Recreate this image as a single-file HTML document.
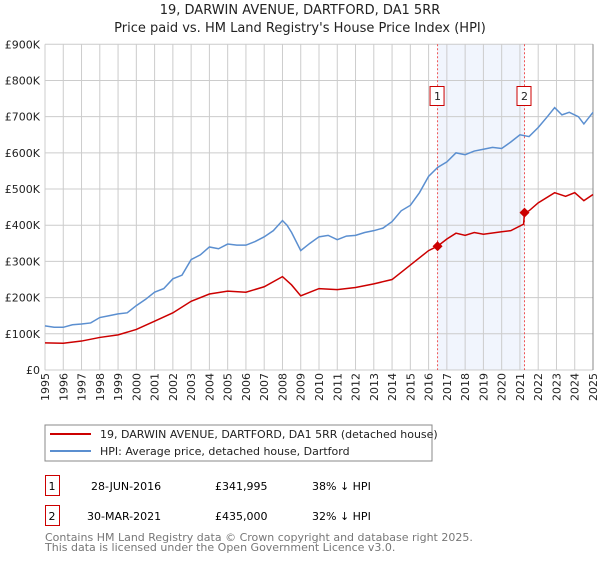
<!DOCTYPE html>
<html><head><meta charset="utf-8"><style>
body{margin:0;background:#fff;font-family:"DejaVu Sans","Liberation Sans",sans-serif;}
svg text{font-family:"DejaVu Sans","Liberation Sans",sans-serif;}
</style></head><body>
<svg id="c" width="600" height="560" xmlns="http://www.w3.org/2000/svg">
<text x="300" y="14" text-anchor="middle" font-size="13" fill="#222">19, DARWIN AVENUE, DARTFORD, DA1 5RR</text>
<text x="300" y="32" text-anchor="middle" font-size="13" fill="#222">Price paid vs. HM Land Registry's House Price Index (HPI)</text>
<g id="plot"></g>
<rect x="45" y="425" width="387" height="36" fill="#fff" stroke="#888"/>
<line x1="50" y1="434" x2="91" y2="434" stroke="#cc0000" stroke-width="2"/>
<text x="100" y="438" font-size="11" fill="#222">19, DARWIN AVENUE, DARTFORD, DA1 5RR (detached house)</text>
<line x1="50" y1="451" x2="91" y2="451" stroke="#5b8fd0" stroke-width="2"/>
<text x="100" y="455" font-size="11" fill="#222">HPI: Average price, detached house, Dartford</text>
<g>
<rect x="45.5" y="475.5" width="14" height="20" fill="none" stroke="#cc0000"/>
<text x="52" y="490" text-anchor="middle" font-size="11">1</text>
<text x="91" y="490" font-size="11">28-JUN-2016</text>
<text x="215" y="490" font-size="11">£341,995</text>
<text x="312" y="490" font-size="11">38% ↓ HPI</text></g>
<g>
<rect x="45.5" y="505.5" width="14" height="20" fill="none" stroke="#cc0000"/>
<text x="52" y="520" text-anchor="middle" font-size="11">2</text>
<text x="87" y="520" font-size="11">30-MAR-2021</text>
<text x="215" y="520" font-size="11">£435,000</text>
<text x="312" y="520" font-size="11">32% ↓ HPI</text></g>
<text x="45" y="541" font-size="11" fill="#777">Contains HM Land Registry data © Crown copyright and database right 2025.</text>
<text x="45" y="551" font-size="11" fill="#777">This data is licensed under the Open Government Licence v3.0.</text>
</svg>
<script>
const hpiYears=[1995,1995.5,1996,1996.5,1997,1997.5,1998,1998.5,1999,1999.5,2000,2000.5,2001,2001.5,2002,2002.5,2003,2003.5,2004,2004.5,2005,2005.5,2006,2006.5,2007,2007.5,2008,2008.25,2008.5,2009,2009.5,2010,2010.5,2011,2011.5,2012,2012.5,2013,2013.5,2014,2014.5,2015,2015.5,2016,2016.5,2017,2017.5,2018,2018.5,2019,2019.5,2020,2020.5,2021,2021.5,2022,2022.5,2022.9,2023.3,2023.7,2024.2,2024.5,2025];
const hpiValues=[122,118,118,125,127,130,145,150,155,158,178,195,215,225,252,262,305,318,340,335,348,345,345,355,368,385,413,400,380,330,350,368,372,360,370,372,380,385,392,410,440,455,490,535,560,575,600,595,605,610,615,612,630,650,645,670,700,725,705,712,700,680,712];
const redYears=[1995,1996,1997,1998,1999,2000,2001,2002,2003,2004,2005,2006,2007,2008,2008.5,2009,2010,2011,2012,2013,2014,2015,2016,2016.49,2017,2017.5,2018,2018.5,2019,2020,2020.5,2021.2,2021.25,2021.5,2022,2022.9,2023.5,2024,2024.5,2025];
const redValues=[75,74,80,90,97,112,135,158,190,210,218,215,230,258,235,205,225,222,228,238,250,290,330,342,362,378,372,380,375,382,385,403,435,440,462,490,480,490,468,485];
const saleYears=[2016.49,2021.25];
const saleValues=[342,435];
const saleLabels=["1","2"];
const yTicks=[0,100,200,300,400,500,600,700,800,900];
const yTickLabels=["£0","£100K","£200K","£300K","£400K","£500K","£600K","£700K","£800K","£900K"];
const xTicks=[1995,1996,1997,1998,1999,2000,2001,2002,2003,2004,2005,2006,2007,2008,2009,2010,2011,2012,2013,2014,2015,2016,2017,2018,2019,2020,2021,2022,2023,2024,2025];
const X0=45,X1=593,Y0=370,Y1=44.3;
const xs=y=>X0+(y-1995)/30*(X1-X0);
const ys=v=>Y0-v/900*(Y0-Y1);
const g=document.getElementById('plot');
const NS='http://www.w3.org/2000/svg';
function mk(t,a){const e=document.createElementNS(NS,t);for(const k in a)e.setAttribute(k,a[k]);g.appendChild(e);return e;}
let r=mk('rect',{x:xs(saleYears[0]),y:Y1,width:xs(saleYears[1])-xs(saleYears[0]),height:Y0-Y1,fill:'#eef3fc',opacity:0.8});


yTicks.forEach((v,i)=>{
 let l=mk('line',{x1:X0,x2:X1,y1:ys(v),y2:ys(v),stroke:'#ccc'});
 
 
 let t=mk('text',{x:40,y:ys(v)+4,'text-anchor':'end','font-size':11,fill:'#222'});t.textContent=yTickLabels[i];
 
 
});
xTicks.forEach(y=>{
 let l=mk('line',{x1:xs(y),x2:xs(y),y1:Y1,y2:Y0,stroke:'#ccc'});
 
 
 let t=mk('text',{x:0,y:0,'font-size':11,fill:'#222',transform:`translate(${xs(y)+4},${Y0+31}) rotate(-90)`});t.textContent=y;
 
 
});
let b=mk('line',{x1:X1,x2:X1,y1:Y1,y2:Y0,stroke:'#888'});


saleYears.forEach((y,i)=>{
 let l=mk('line',{x1:xs(y),x2:xs(y),y1:Y1,y2:Y0,stroke:'#e55','stroke-dasharray':'2,2'});
 
 
 let bx=mk('rect',{x:xs(y)-7.5,y:86.5,width:14,height:19,fill:'#fff',stroke:'#cc0000'});
 
 
 let t=mk('text',{x:xs(y),y:100,'text-anchor':'middle','font-size':11,fill:'#222'});t.textContent=saleLabels[i];
 
 
});
function line(xa,va,c,n){const p=mk('polyline',{points:xa.map((x,i)=>xs(x)+','+ys(va[i])).join(' '),fill:'none',stroke:c,'stroke-width':1.5});
 
 }
line(hpiYears,hpiValues,'#5b8fd0','hpi-line');
line(redYears,redValues,'#cc0000','property-line');
saleYears.forEach((y,i)=>{
 const cx=xs(y),cy=ys(saleValues[i]);
 let d=mk('polygon',{points:`${cx},${cy-5} ${cx+5},${cy} ${cx},${cy+5} ${cx-5},${cy}`,fill:'#cc0000'});
 
 
});
</script>
</body></html>
